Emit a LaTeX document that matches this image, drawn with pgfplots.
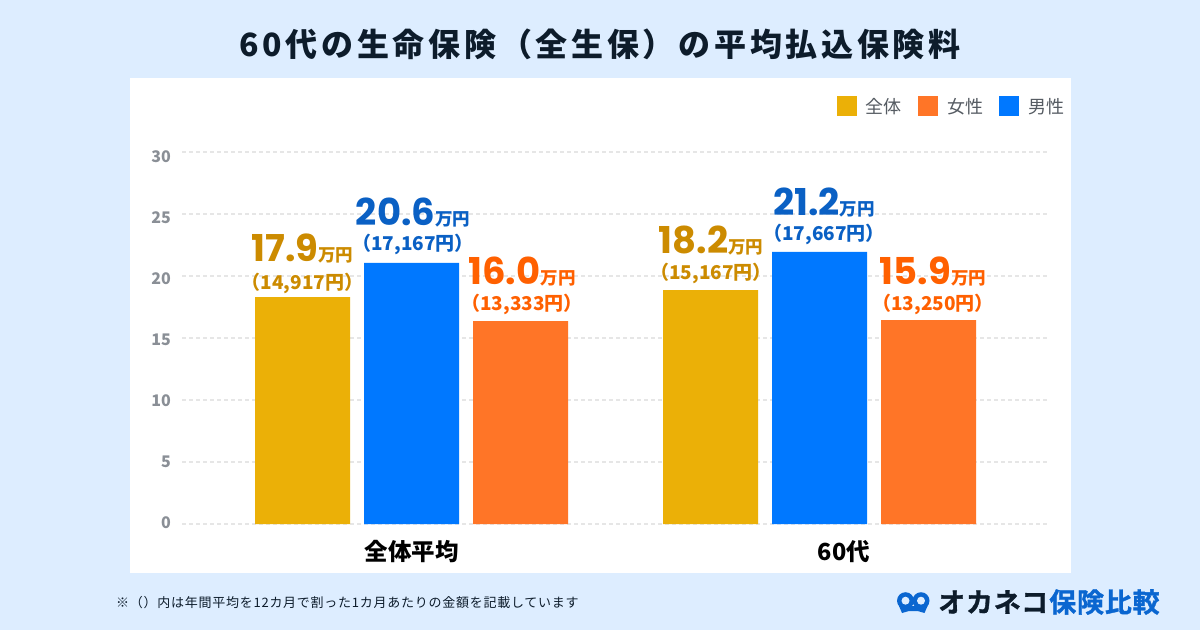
\documentclass[border=0pt]{standalone}
\usepackage{fontspec}
\usepackage{pgfplots}
\pgfplotsset{compat=1.18}
\setmainfont{Noto Sans CJK JP}
\newfontfamily\cjktitle[LetterSpace=11.6]{Noto Sans CJK JP}
\newfontfamily\notefont[LetterSpace=5.7]{Noto Sans CJK JP}
\newfontfamily\logofont[UprightFont={* Bold},FakeBold=1.2,LetterSpace=3]{Noto Sans CJK JP}
\newfontfamily\numfont{Poppins}
\definecolor{bg}{HTML}{DDEDFF}
\definecolor{cgold}{HTML}{EBB007}
\definecolor{cblue}{HTML}{0078FF}
\definecolor{corange}{HTML}{FF7527}
\definecolor{lgold}{HTML}{CC8B00}
\definecolor{lblue}{HTML}{0A60C4}
\definecolor{lorange}{HTML}{FF6000}
\definecolor{dark}{HTML}{0D1C2B}
\definecolor{legtext}{HTML}{555B62}
\definecolor{ticktext}{HTML}{8A8F96}
\definecolor{gridc}{HTML}{E6E6E6}
\definecolor{logoblue}{HTML}{0A66D0}
\newcommand{\fs}[1]{\fontsize{#1pt}{#1pt}\selectfont}
\newcommand{\lab}[6]{% x, baseline y, second line y, colour, big, small
  \node[anchor=base,inner sep=0,text=#4,font=\bfseries] at (#1,630-#2) {{\numfont\fs{37}#5}{\fs{17.5}万円}};
  \node[anchor=center,inner sep=0,text=#4,font=\bfseries] at (#1,630-#3-1) {\fs{19}#6};
}
\newcommand{\tl}[2]{\raisebox{#1pt}[0pt][0pt]{#2}}
\begin{document}
\begin{tikzpicture}[x=1pt,y=1pt]
\fill[bg] (0,0) rectangle (1200,630);
\fill[white] (130,57) rectangle (1071,552);
\node[inner sep=0,text=dark,font=\bfseries] at (600,586) {\cjktitle\fs{32}60代の生命保険（全生保）の平均払込保険料};
\begin{axis}[
  at={(182pt,106pt)},anchor=south west,
  scale only axis,width=865pt,height=372pt,
  xmin=-0.5625,xmax=1.5576,ymin=0,ymax=30,
  axis line style={draw=none},
  clip=false,
  xtick={0,1},xticklabels={全体平均,\hspace*{49pt}60代},
  ytick={0,5,...,30},
  yticklabels={\tl{-4.6}{0},\tl{-5.63}{5},\tl{-6.67}{10},\tl{-7.7}{15},\tl{-8.73}{20},\tl{-9.77}{25},\tl{-10.8}{30}},
  major tick length=0pt,
  ymajorgrids,
  grid style={gridc,line width=1.5pt,dash pattern=on 4pt off 3pt},
  xticklabel style={text=black,font=\bfseries\fs{23.5},yshift=-12.5pt},
  yticklabel style={text=ticktext,font=\bfseries\fs{16},xshift=-7.5pt},
  /pgf/number format/assume math mode=true,
  ybar,bar width=95pt,
  legend style={at={(1069.5pt-182pt,490pt-106pt+33.5pt)},anchor=east,draw=none,fill=none,
    legend columns=3,font=\fs{18},text=legtext,
    /tikz/every even column/.append style={column sep=14pt}},
  legend image code/.code={\fill[#1,draw=none] (0pt,-8.5pt) rectangle (20pt,11.5pt);\path (27pt,0pt);},
]
\addplot[forget plot,fill=cgold,draw=none,bar shift=-109pt] coordinates {(0,18.3) (1,18.87)};
\addplot[forget plot,fill=cblue,draw=none,bar shift=0pt] coordinates {(0,21.05) (1,21.94)};
\addplot[forget plot,fill=corange,draw=none,bar shift=109pt] coordinates {(0,16.37) (1,16.45)};
\addlegendimage{fill=cgold}
\addlegendentry{全体}
\addlegendimage{fill=corange}
\addlegendentry{女性}
\addlegendimage{fill=cblue}
\addlegendentry{男性}
\end{axis}
\lab{302.5}{262}{282}{lgold}{17.9}{（14,917円）}
\lab{413}{226}{243}{lblue}{20.6}{（17,167円）}
\lab{522}{285}{303}{lorange}{16.0}{（13,333円）}
\lab{711}{254}{272}{lgold}{18.2}{（15,167円）}
\lab{824}{216}{233}{lblue}{21.2}{（17,667円）}
\lab{933}{285}{303}{lorange}{15.9}{（13,250円）}
\node[anchor=west,inner sep=0,text=dark] at (116,27) {\notefont\fs{13}※（）内は年間平均を12カ月で割った1カ月あたりの金額を記載しています};
\fill[logoblue] (905.5,29.3) circle (8.5);
\fill[logoblue] (921,29.3) circle (8.5);
\fill[logoblue] (899,24) -- (902,17) -- (909,19) -- (917.5,19) -- (924.5,17) -- (927.5,24) -- cycle;
\fill[bg] (905.5,29.3) circle (4);
\fill[bg] (921,29.3) circle (4);
\node[anchor=west,inner sep=0,text=dark] at (938,28) {\logofont\fs{27}オカネコ};
\node[anchor=west,inner sep=0,text=logoblue] at (1049,28) {\logofont\fs{27}保険比較};
\end{tikzpicture}
\end{document}
